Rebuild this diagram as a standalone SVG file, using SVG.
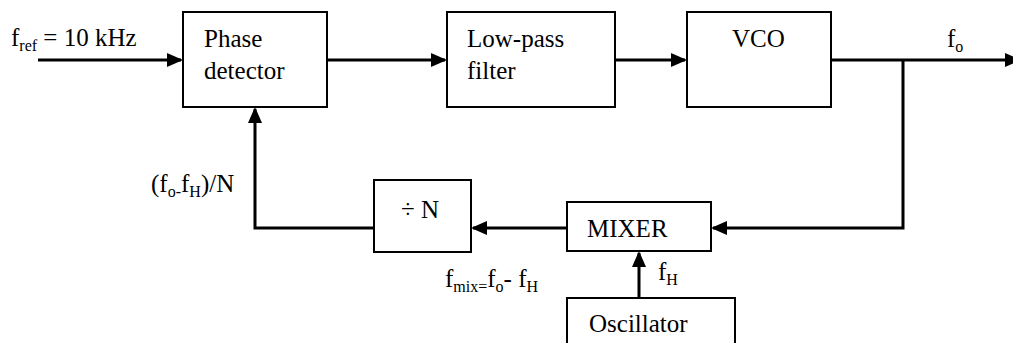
<svg xmlns="http://www.w3.org/2000/svg" width="1013" height="343" viewBox="0 0 1013 343">
<style>
.box{fill:#fff;stroke:#000;stroke-width:2}
.w{fill:none;stroke:#000;stroke-width:3}
</style>
<defs>
<marker id="ah" markerUnits="userSpaceOnUse" markerWidth="16" markerHeight="14" refX="14" refY="7" orient="auto" viewBox="0 0 16 14">
<path d="M0,0 L16,7 L0,14 z" fill="#000"/>
</marker>
</defs>
<g id="connectors">
<path class="w" d="M38 60 H181" marker-end="url(#ah)"/>
<path class="w" d="M327 60 H445" marker-end="url(#ah)"/>
<path class="w" d="M615 60 H685" marker-end="url(#ah)"/>
<path class="w" d="M831 60 H1019" marker-end="url(#ah)"/>
<path class="w" d="M903 60 V228 H713" marker-end="url(#ah)"/>
<path class="w" d="M567 228 H473" marker-end="url(#ah)"/>
<path class="w" d="M374 228 H255 V109" marker-end="url(#ah)"/>
<path class="w" d="M639 298 V253" marker-end="url(#ah)"/>
</g>
<g font-family="Liberation Serif, Times New Roman, serif" font-size="25" fill="#000">
<g id="labels">
<text x="11" y="46">f<tspan font-size="16" dy="5">ref</tspan><tspan dy="-5"> = 10 kHz</tspan></text>
<text x="947" y="47">f<tspan font-size="16" dy="5">o</tspan></text>
<text x="151" y="192">(f<tspan font-size="16" dy="5">o-</tspan><tspan dy="-5">f</tspan><tspan font-size="16" dy="5">H</tspan><tspan dy="-5">)/N</tspan></text>
<text x="445" y="287">f<tspan font-size="16" dy="5">mix=</tspan><tspan dy="-5">f</tspan><tspan font-size="16" dy="5">o</tspan><tspan dy="-5">- f</tspan><tspan font-size="16" dy="5">H</tspan></text>
<text x="658" y="280">f<tspan font-size="16" dy="5">H</tspan></text>
</g>
<g id="phase-detector">
<rect class="box" x="183" y="12" width="144" height="95"/>
<text x="204" y="47">Phase</text>
<text x="204" y="79">detector</text>
</g>
<g id="low-pass-filter">
<rect class="box" x="447" y="12" width="168" height="95"/>
<text x="467" y="47">Low-pass</text>
<text x="467" y="79">filter</text>
</g>
<g id="vco">
<rect class="box" x="687" y="12" width="144" height="95"/>
<text x="732" y="47">VCO</text>
</g>
<g id="divider">
<rect class="box" x="374" y="180" width="97" height="72"/>
<text x="401" y="218">÷ N</text>
</g>
<g id="mixer">
<rect class="box" x="567" y="202" width="144" height="49"/>
<text x="587" y="237">MIXER</text>
</g>
<g id="oscillator">
<rect class="box" x="567" y="298" width="168" height="60"/>
<text x="589" y="332">Oscillator</text>
</g>
</g>
</svg>
